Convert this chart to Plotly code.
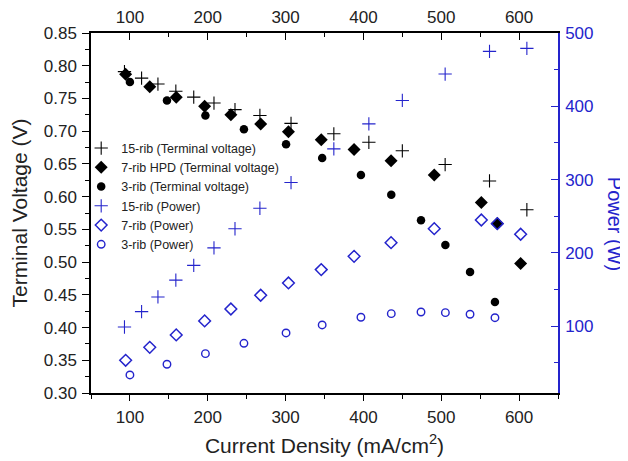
import plotly.graph_objects as go

# ---- data ----
x15 = [93, 115, 136, 159, 182, 208, 235, 267, 307, 362, 407, 450, 505, 562, 610]
v15 = [0.791, 0.781, 0.772, 0.761, 0.752, 0.743, 0.733, 0.724, 0.712, 0.696, 0.683, 0.670, 0.649, 0.624, 0.580]
p15 = [99, 120, 140, 163, 183, 207, 233, 261, 296, 342, 376, 408, 444, 475, 479]

x7 = [94.5, 125.5, 159.5, 196, 229.7, 268, 303.7, 345.8, 388, 435.5, 491, 551.5, 572, 602]
v7 = [0.787, 0.768, 0.752, 0.738, 0.725, 0.711, 0.699, 0.687, 0.672, 0.655, 0.633, 0.591, 0.559, 0.498]
p7 = [53.6, 71.3, 88.2, 107.3, 123.6, 142.3, 159.1, 177.3, 195.4, 214, 233.1, 245, 240, 225.5]

x3 = [100, 147.6, 197, 246.5, 300.6, 347, 396.8, 435.8, 474, 505.3, 537, 569]
v3 = [0.775, 0.747, 0.724, 0.703, 0.680, 0.659, 0.633, 0.603, 0.564, 0.526, 0.485, 0.439]
p3 = [33.6, 48.2, 62.7, 76.8, 90.9, 101.8, 112.3, 117.2, 119.5, 118.6, 116.4, 111.7]

names = ["15-rib (Terminal voltage)", "7-rib HPD (Terminal voltage)", "3-rib (Terminal voltage)",
         "15-rib (Power)", "7-rib (Power)", "3-rib (Power)"]

BLUE = "#2424cc"
FONT = "Liberation Sans, Arial, sans-serif"

fig = go.Figure()
fig.add_trace(go.Scatter(x=x15, y=v15, mode="markers", name=names[0],
                         marker=dict(symbol="cross-thin", size=9.5, color="black",
                                     line=dict(color="black", width=1.1))))
fig.add_trace(go.Scatter(x=x7, y=v7, mode="markers", name=names[1],
                         marker=dict(symbol="diamond", size=10, color="black")))
fig.add_trace(go.Scatter(x=x3, y=v3, mode="markers", name=names[2],
                         marker=dict(symbol="circle", size=8.5, color="black")))
fig.add_trace(go.Scatter(x=x15, y=p15, mode="markers", name=names[3], yaxis="y2",
                         marker=dict(symbol="cross-thin", size=9.5, color=BLUE,
                                     line=dict(color=BLUE, width=1.1))))
fig.add_trace(go.Scatter(x=x7, y=p7, mode="markers", name=names[4], yaxis="y2",
                         marker=dict(symbol="diamond-open", size=9, color=BLUE,
                                     line=dict(color=BLUE, width=1.5))))
fig.add_trace(go.Scatter(x=x3, y=p3, mode="markers", name=names[5], yaxis="y2",
                         marker=dict(symbol="circle-open", size=7.5, color=BLUE,
                                     line=dict(color=BLUE, width=1.4))))
# helper trace so the top axis is drawn
fig.add_trace(go.Scatter(x=[None], y=[None], xaxis="x2", yaxis="y", showlegend=False,
                         hoverinfo="skip", mode="markers"))

tickfont = dict(family=FONT, size=17, color="#222")

# the page adds an 8px body margin; size the figure so it fits the 628x461 window
fig.update_layout(
    width=620, height=453,
    margin=dict(l=83, r=70, t=25, b=68, autoexpand=False),
    paper_bgcolor="white", plot_bgcolor="white",
    font=dict(family=FONT, color="#222"),
    showlegend=True,
    legend=dict(x=-0.021, y=0.721, xanchor="left", yanchor="top",
                bgcolor="rgba(0,0,0,0)", font=dict(family=FONT, size=12.5, color="#222"),
                tracegroupgap=0),
    xaxis=dict(range=[50, 650], dtick=100, tick0=0, showgrid=False, zeroline=False,
               automargin=False,
               showline=True, linecolor="black", linewidth=1.5,
               ticks="outside", ticklen=6, tickwidth=1.2, tickcolor="black",
               minor=dict(dtick=50, tick0=0, ticks="outside", ticklen=4, tickcolor="black", tickwidth=1.2),
               tickfont=tickfont, ticklabelstandoff=2,
               title=dict(text="Current Density (mA/cm<sup>2</sup>)",
                          font=dict(family=FONT, size=21, color="#222"), standoff=12)),
    xaxis2=dict(range=[50, 650], dtick=100, tick0=0, overlaying="x", side="top",
                matches="x", showgrid=False, zeroline=False, automargin=False,
                showline=True, linecolor="black", linewidth=1.5,
                ticks="inside", ticklen=7, tickwidth=1.2, tickcolor="black",
                minor=dict(dtick=50, tick0=0, ticks="inside", ticklen=4, tickcolor="black", tickwidth=1.2),
                tickfont=tickfont, ticklabelstandoff=1),
    yaxis=dict(range=[0.30, 0.85], dtick=0.05, tick0=0, tickformat=".2f",
               showgrid=False, zeroline=False, automargin=False,
               showline=True, linecolor="black", linewidth=1.5,
               ticks="outside", ticklen=7, tickwidth=1.2, tickcolor="black",
               minor=dict(dtick=0.025, tick0=0, ticks="outside", ticklen=4, tickcolor="black", tickwidth=1.2),
               tickfont=tickfont, ticklabelstandoff=2,
               title=dict(text="Terminal Voltage (V)",
                          font=dict(family=FONT, size=21, color="#222"), standoff=13)),
    yaxis2=dict(range=[9, 500], dtick=100, tick0=0, overlaying="y", side="right",
                showgrid=False, zeroline=False, automargin=False,
                showline=True, linecolor=BLUE, linewidth=1.5,
                ticks="inside", ticklen=7, tickwidth=1.2, tickcolor=BLUE,
                minor=dict(dtick=50, tick0=0, ticks="inside", ticklen=4, tickcolor=BLUE, tickwidth=1.2),
                tickfont=dict(family=FONT, size=17, color=BLUE), ticklabelstandoff=2),
    annotations=[dict(text="Power (W)", xref="paper", yref="paper",
                      x=1.0, xanchor="center", yanchor="middle", xshift=57, y=0.47,
                      textangle=90, showarrow=False,
                      font=dict(family=FONT, size=20, color=BLUE))],
)

fig.write_html("out.html")
